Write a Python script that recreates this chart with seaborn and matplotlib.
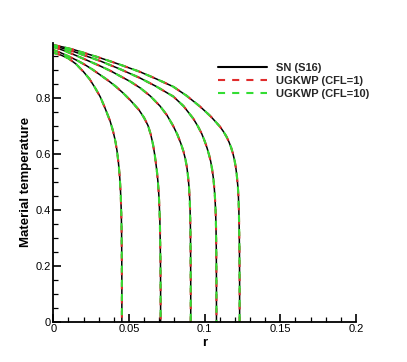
import numpy as np
import pandas as pd
import matplotlib
matplotlib.use("Agg")
import matplotlib.pyplot as plt
from matplotlib.lines import Line2D
from matplotlib.ticker import MultipleLocator, FuncFormatter
import seaborn as sns

# ---- data ----
r1 = [0, .005, .010, .015, .020, .024, .0276, .031, .034, .0375, .0395, .0410, .0421, .0430, .0437, .0442, .0446, .0449, .0451, .0452, .0453, .0453]
T1 = [.960, .952, .940, .920, .892, .866, .835, .803, .765, .717, .680, .645, .610, .570, .530, .490, .445, .395, .335, .260, .130, 0]

r2 = [0, .005, .011, .016, .021, .026, .031, .036, .041, .046, .051, .0566, .0600, .0626, .0644, .0658, .0669, .0678, .0686, .0692, .0697, .0701, .0704, .0706, .0708, .0709, .0709]
T2 = [.970, .960, .945, .932, .917, .900, .881, .862, .841, .817, .790, .756, .728, .700, .668, .635, .600, .565, .530, .495, .455, .410, .360, .300, .220, .110, 0]

r3 = [0, .007, .0143, .022, .0309, .038, .0441, .051, .0573, .064, .0705, .0750, .0791, .0820, .0843, .0860, .0873, .0883, .0891, .0897, .0901, .0904, .0906, .0907, .0908, .0908]
T3 = [.981, .968, .952, .934, .913, .895, .877, .857, .835, .806, .770, .738, .700, .668, .636, .608, .580, .550, .515, .478, .440, .395, .335, .260, .130, 0]

r4 = [0, .007, .0143, .022, .0309, .044, .0573, .068, .0793, .086, .0925, .0955, .0980, .1000, .1016, .1029, .1040, .1049, .1057, .1063, .1068, .1072, .1075, .1077, .1078, .1078]
T4 = [.985, .975, .963, .948, .931, .902, .870, .840, .804, .770, .725, .698, .672, .645, .620, .596, .572, .545, .515, .482, .445, .400, .340, .260, .130, 0]

r5 = [0, .007, .0143, .022, .0309, .044, .0573, .068, .0793, .088, .097, .104, .1102, .1125, .1145, .1162, .1176, .1188, .1198, .1206, .1213, .1219, .1223, .1226, .1228, .1230, .1231, .1231]
T5 = [.988, .980, .970, .957, .942, .918, .892, .867, .839, .807, .768, .733, .696, .678, .660, .640, .620, .598, .575, .550, .520, .485, .450, .400, .340, .260, .130, 0]

methods = ["SN (S16)", "UGKWP (CFL=1)", "UGKWP (CFL=10)"]
x_ticks = [0, 0.05, 0.1, 0.15, 0.2]
y_ticks = [0, 0.2, 0.4, 0.6, 0.8]

curves = [(r1, T1), (r2, T2), (r3, T3), (r4, T4), (r5, T5)]
rows = []
for m in methods:
    for ci, (rr, tt) in enumerate(curves):
        for k, (a, b) in enumerate(zip(rr, tt)):
            rows.append({"method": m, "curve": ci, "k": k, "r": a, "T": b})
df = pd.DataFrame(rows)

# ---- style ----
sns.set_theme(style="white")
plt.rcParams["font.family"] = ["Liberation Sans", "DejaVu Sans"]

fig = plt.figure(figsize=(4.07, 3.62), dpi=100)
ax = fig.add_axes([53.3 / 407, 1 - 321.7 / 362, (356 - 53.3) / 407, (321.7 - 43) / 362])

red = "#e02c2c"
green = "#33dd33"
styles = {
    methods[0]: dict(color="black", linewidth=1.1, linestyle="-"),
    methods[1]: dict(color=red, linewidth=1.5, linestyle=(0, (3.4, 3.4))),
    methods[2]: dict(color=green, linewidth=1.5, linestyle=(1.2, (3.4, 3.4))),
}

for m in methods:
    sub = df[df.method == m]
    sns.lineplot(data=sub, x="r", y="T", units="curve", estimator=None,
                 sort=False, ax=ax, legend=False, solid_joinstyle="round",
                 dash_joinstyle="round", **styles[m])

ax.set_xlim(0, 0.2)
ax.set_ylim(0, 0.995)
ax.set_xticks(x_ticks)
ax.set_yticks(y_ticks)
fmt = FuncFormatter(lambda v, p: "%g" % round(v, 4))
ax.xaxis.set_major_formatter(fmt)
ax.yaxis.set_major_formatter(fmt)
ax.xaxis.set_minor_locator(MultipleLocator(0.01))
ax.yaxis.set_minor_locator(MultipleLocator(0.05))
ax.tick_params(axis="both", which="major", direction="in", length=6, width=1.2,
               color="black", labelsize=8, pad=2, labelcolor="black")
ax.tick_params(axis="both", which="minor", direction="in", length=3.5, width=0.9,
               color="black")
ax.tick_params(axis="x", which="both", bottom=True, top=False)
ax.tick_params(axis="y", which="both", left=True, right=False)

for s in ["top", "right"]:
    ax.spines[s].set_visible(False)
for s in ["left", "bottom"]:
    ax.spines[s].set_color("black")
    ax.spines[s].set_linewidth(1.3)

ax.set_xlabel("r", fontsize=9.5, fontweight="bold", color="black", labelpad=2)
ax.set_ylabel("Material temperature", fontsize=9.5, fontweight="bold", color="black", labelpad=2)

handles = [
    Line2D([], [], color="black", linewidth=1.5, linestyle="-"),
    Line2D([], [], color=red, linewidth=1.5, linestyle=(0, (3.4, 3.4))),
    Line2D([], [], color=green, linewidth=1.5, linestyle=(0, (3.4, 3.4))),
]
leg = fig.legend(handles, methods, loc="upper left", bbox_to_anchor=(218 / 407, 1 - 63 / 362),
                 frameon=False, handlelength=4.4, handletextpad=0.8, labelspacing=0.25,
                 borderpad=0, borderaxespad=0, prop={"size": 8, "weight": "bold"})

fig.savefig("out.png", dpi=100)
